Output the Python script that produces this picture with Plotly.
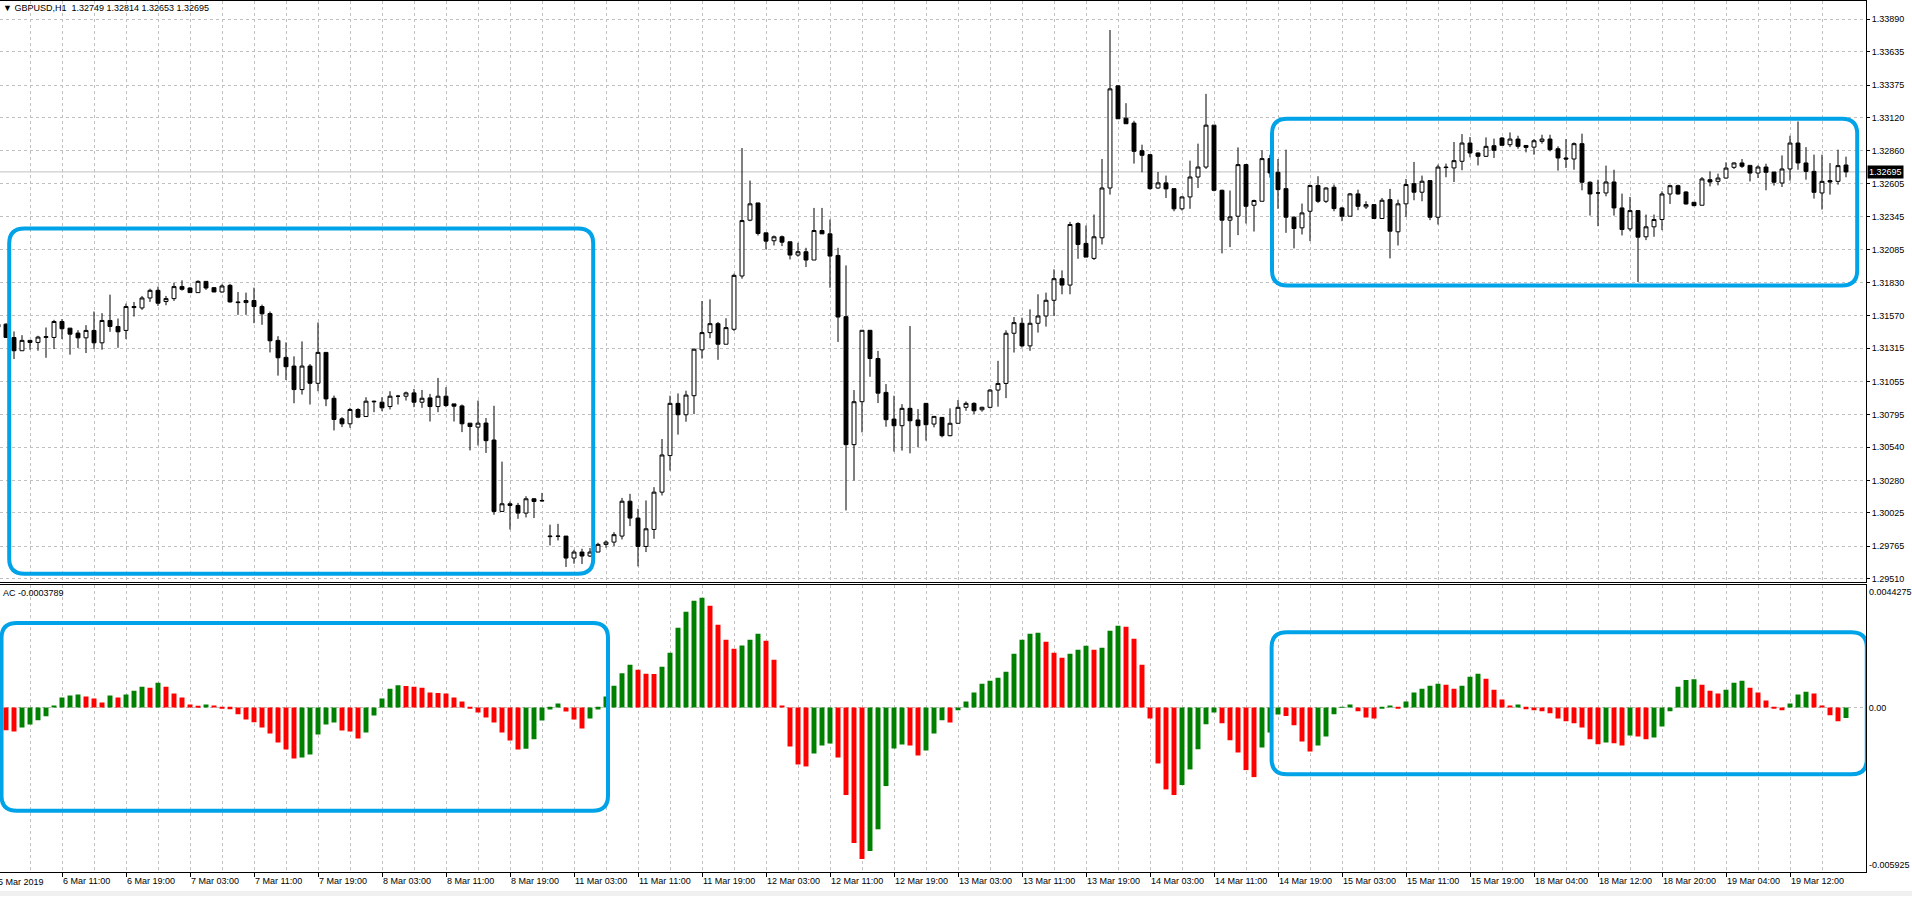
import plotly.graph_objects as go

# GBPUSD H1 candles (bar -1 is the sliver cut at the left edge, bar 230 is the live bar)
bar_index = list(range(-1, 231))

opens = [1.31502,
    1.31503, 1.31398, 1.31295, 1.31376, 1.31360, 1.31399, 1.31399, 1.31524, 1.31472, 1.31433,
    1.31396, 1.31454, 1.31357, 1.31532, 1.31485, 1.31454, 1.31641, 1.31630, 1.31708, 1.31768,
    1.31680, 1.31703, 1.31797, 1.31786, 1.31750, 1.31838, 1.31789, 1.31755, 1.31807, 1.31677,
    1.31672, 1.31688, 1.31641, 1.31586, 1.31376, 1.31243, 1.31175, 1.30991, 1.31175, 1.31040,
    1.31282, 1.30923, 1.30762, 1.30723, 1.30835, 1.30780, 1.30900, 1.30892, 1.30858, 1.30939,
    1.30939, 1.30965, 1.30892, 1.30926, 1.30858, 1.30939, 1.30879, 1.30863, 1.30728, 1.30697,
    1.30729, 1.30596, 1.30037, 1.30097, 1.30084, 1.30024, 1.30136, 1.30123, 1.29845, 1.29845,
    1.29844, 1.29672, 1.29719, 1.29688, 1.29719, 1.29779, 1.29797, 1.29844, 1.30117, 1.29985,
    1.29763, 1.29896, 1.30188, 1.30474, 1.30883, 1.30794, 1.30943, 1.31302, 1.31437, 1.31507,
    1.31346, 1.31463, 1.31880, 1.32317, 1.32452, 1.32218, 1.32156, 1.32187, 1.32148, 1.32044,
    1.32070, 1.32005, 1.32236, 1.32210, 1.32041, 1.31562, 1.30560, 1.30896, 1.31455, 1.31234,
    1.30969, 1.30760, 1.30708, 1.30844, 1.30753, 1.30883, 1.30721, 1.30773, 1.30630, 1.30727,
    1.30852, 1.30883, 1.30833, 1.30852, 1.30987, 1.31039, 1.31432, 1.31510, 1.31333, 1.31510,
    1.31567, 1.31690, 1.31859, 1.31809, 1.32291, 1.32135, 1.32018, 1.32179, 1.32569, 1.33369,
    1.33116, 1.33077, 1.32861, 1.32830, 1.32569, 1.32609, 1.32564, 1.32406, 1.32499, 1.32655,
    1.32733, 1.33061, 1.32551, 1.32317, 1.32348, 1.32752, 1.32434, 1.32465, 1.32799, 1.32692,
    1.32564, 1.32340, 1.32257, 1.32387, 1.32588, 1.32465, 1.32575, 1.32413, 1.32348, 1.32523,
    1.32421, 1.32439, 1.32330, 1.32478, 1.32226, 1.32445, 1.32603, 1.32536, 1.32627, 1.32340,
    1.32733, 1.32726, 1.32778, 1.32921, 1.32843, 1.32817, 1.32900, 1.32960, 1.32908, 1.32952,
    1.32902, 1.32889, 1.32934, 1.32952, 1.32876, 1.32804, 1.32796, 1.32916, 1.32614, 1.32530,
    1.32530, 1.32616, 1.32413, 1.32249, 1.32392, 1.32187, 1.32265, 1.32322, 1.32522, 1.32587,
    1.32538, 1.32457, 1.32434, 1.32634, 1.32621, 1.32647, 1.32731, 1.32765, 1.32746, 1.32686,
    1.32733, 1.32694, 1.32608, 1.32718, 1.32921, 1.32765, 1.32699, 1.32530, 1.32627, 1.32621,
    1.32749]

highs = [1.31510,
    1.31510, 1.31446, 1.31417, 1.31376, 1.31412, 1.31477, 1.31537, 1.31542, 1.31472, 1.31456,
    1.31495, 1.31602, 1.31589, 1.31734, 1.31547, 1.31664, 1.31677, 1.31724, 1.31781, 1.31797,
    1.31724, 1.31828, 1.31846, 1.31792, 1.31846, 1.31838, 1.31789, 1.31815, 1.31818, 1.31755,
    1.31750, 1.31789, 1.31656, 1.31602, 1.31409, 1.31360, 1.31251, 1.31368, 1.31191, 1.31516,
    1.31282, 1.30944, 1.30775, 1.30848, 1.30845, 1.30931, 1.30905, 1.30931, 1.30978, 1.30949,
    1.30975, 1.30996, 1.30988, 1.30957, 1.31082, 1.31009, 1.30879, 1.30874, 1.30728, 1.30905,
    1.30768, 1.30864, 1.30427, 1.30115, 1.30104, 1.30156, 1.30141, 1.30182, 1.29933, 1.29940,
    1.29844, 1.29737, 1.29745, 1.29750, 1.29792, 1.29810, 1.29875, 1.30143, 1.30175, 1.30058,
    1.30123, 1.30227, 1.30604, 1.30943, 1.30961, 1.30982, 1.31312, 1.31684, 1.31697, 1.31520,
    1.31549, 1.31898, 1.32882, 1.32627, 1.32452, 1.32218, 1.32197, 1.32197, 1.32148, 1.32140,
    1.32101, 1.32413, 1.32413, 1.32322, 1.32101, 1.31963, 1.30987, 1.31455, 1.31455, 1.31294,
    1.31034, 1.30943, 1.30877, 1.31489, 1.30838, 1.30883, 1.30781, 1.30773, 1.30844, 1.30909,
    1.30898, 1.30891, 1.30857, 1.30995, 1.31216, 1.31455, 1.31559, 1.31554, 1.31619, 1.31737,
    1.31750, 1.31932, 1.31924, 1.32304, 1.32301, 1.32275, 1.32361, 1.32796, 1.33806, 1.33369,
    1.33233, 1.33095, 1.32908, 1.32835, 1.32694, 1.32666, 1.32564, 1.32504, 1.32783, 1.32916,
    1.33306, 1.33061, 1.32556, 1.32549, 1.32887, 1.32757, 1.32478, 1.32864, 1.32830, 1.32796,
    1.32869, 1.32348, 1.32447, 1.32596, 1.32661, 1.32575, 1.32596, 1.32421, 1.32530, 1.32556,
    1.32465, 1.32439, 1.32491, 1.32562, 1.32478, 1.32640, 1.32773, 1.32666, 1.32627, 1.32752,
    1.32760, 1.32929, 1.32991, 1.32968, 1.32848, 1.32965, 1.32955, 1.32968, 1.33004, 1.32978,
    1.32902, 1.32952, 1.32986, 1.32986, 1.32895, 1.32952, 1.32926, 1.32994, 1.32621, 1.32634,
    1.32744, 1.32712, 1.32525, 1.32499, 1.32392, 1.32361, 1.32361, 1.32543, 1.32595, 1.32595,
    1.32543, 1.32457, 1.32655, 1.32699, 1.32681, 1.32770, 1.32770, 1.32796, 1.32746, 1.32746,
    1.32759, 1.32694, 1.32824, 1.32978, 1.33090, 1.32889, 1.32830, 1.32830, 1.32764, 1.32869,
    1.32814]

lows = [1.31470,
    1.31395, 1.31230, 1.31295, 1.31303, 1.31295, 1.31240, 1.31308, 1.31386, 1.31264, 1.31316,
    1.31277, 1.31308, 1.31303, 1.31443, 1.31318, 1.31386, 1.31563, 1.31615, 1.31677, 1.31646,
    1.31651, 1.31685, 1.31766, 1.31750, 1.31750, 1.31771, 1.31755, 1.31750, 1.31672, 1.31576,
    1.31576, 1.31511, 1.31498, 1.31282, 1.31100, 1.31066, 1.30884, 1.30952, 1.30874, 1.30978,
    1.30861, 1.30671, 1.30697, 1.30692, 1.30767, 1.30780, 1.30814, 1.30822, 1.30835, 1.30874,
    1.30905, 1.30853, 1.30848, 1.30741, 1.30814, 1.30853, 1.30741, 1.30658, 1.30515, 1.30554,
    1.30495, 1.30011, 1.30037, 1.29896, 1.29979, 1.29990, 1.29985, 1.30115, 1.29771, 1.29810,
    1.29602, 1.29628, 1.29625, 1.29680, 1.29719, 1.29753, 1.29766, 1.29818, 1.29922, 1.29607,
    1.29719, 1.29823, 1.30162, 1.30357, 1.30638, 1.30739, 1.30799, 1.31234, 1.31393, 1.31224,
    1.31346, 1.31450, 1.31859, 1.32309, 1.32197, 1.32088, 1.32119, 1.32114, 1.32010, 1.32031,
    1.31950, 1.32005, 1.32210, 1.31788, 1.31364, 1.30045, 1.30279, 1.30656, 1.31091, 1.30885,
    1.30700, 1.30505, 1.30513, 1.30492, 1.30539, 1.30591, 1.30695, 1.30617, 1.30625, 1.30727,
    1.30825, 1.30799, 1.30818, 1.30844, 1.30857, 1.30924, 1.31281, 1.31320, 1.31294, 1.31437,
    1.31484, 1.31567, 1.31737, 1.31737, 1.32015, 1.32028, 1.32005, 1.32127, 1.32517, 1.33111,
    1.33072, 1.32760, 1.32692, 1.32556, 1.32562, 1.32491, 1.32387, 1.32392, 1.32406, 1.32569,
    1.32718, 1.32543, 1.32057, 1.32106, 1.32200, 1.32291, 1.32228, 1.32465, 1.32650, 1.32406,
    1.32218, 1.32096, 1.32205, 1.32153, 1.32452, 1.32452, 1.32387, 1.32309, 1.32348, 1.32395,
    1.32405, 1.32330, 1.32330, 1.32018, 1.32119, 1.32343, 1.32473, 1.32465, 1.32317, 1.32283,
    1.32653, 1.32616, 1.32708, 1.32809, 1.32746, 1.32812, 1.32804, 1.32902, 1.32889, 1.32876,
    1.32848, 1.32830, 1.32916, 1.32856, 1.32705, 1.32726, 1.32712, 1.32551, 1.32353, 1.32270,
    1.32504, 1.32353, 1.32197, 1.32231, 1.31833, 1.32161, 1.32187, 1.32239, 1.32444, 1.32517,
    1.32439, 1.32426, 1.32434, 1.32582, 1.32590, 1.32642, 1.32718, 1.32726, 1.32621, 1.32647,
    1.32551, 1.32588, 1.32577, 1.32627, 1.32712, 1.32634, 1.32486, 1.32400, 1.32517, 1.32595,
    1.32653]

closes = [1.31480,
    1.31399, 1.31295, 1.31376, 1.31360, 1.31402, 1.31405, 1.31524, 1.31467, 1.31425, 1.31396,
    1.31454, 1.31357, 1.31532, 1.31485, 1.31443, 1.31641, 1.31633, 1.31708, 1.31768, 1.31667,
    1.31703, 1.31797, 1.31776, 1.31750, 1.31838, 1.31786, 1.31755, 1.31802, 1.31677, 1.31672,
    1.31688, 1.31641, 1.31584, 1.31373, 1.31240, 1.31170, 1.30991, 1.31175, 1.31040, 1.31282,
    1.30918, 1.30757, 1.30723, 1.30835, 1.30775, 1.30900, 1.30896, 1.30848, 1.30939, 1.30939,
    1.30965, 1.30892, 1.30923, 1.30858, 1.30939, 1.30866, 1.30861, 1.30723, 1.30702, 1.30728,
    1.30591, 1.30037, 1.30097, 1.30084, 1.30024, 1.30136, 1.30115, 1.30120, 1.29840, 1.29842,
    1.29672, 1.29719, 1.29688, 1.29719, 1.29779, 1.29797, 1.29855, 1.30117, 1.29985, 1.29763,
    1.29901, 1.30188, 1.30479, 1.30883, 1.30794, 1.30948, 1.31307, 1.31437, 1.31507, 1.31346,
    1.31476, 1.31885, 1.32314, 1.32445, 1.32213, 1.32153, 1.32187, 1.32145, 1.32044, 1.32070,
    1.32005, 1.32236, 1.32210, 1.32036, 1.31559, 1.30560, 1.30896, 1.31455, 1.31234, 1.30963,
    1.30755, 1.30708, 1.30844, 1.30747, 1.30708, 1.30716, 1.30781, 1.30630, 1.30727, 1.30852,
    1.30883, 1.30825, 1.30852, 1.30987, 1.31039, 1.31432, 1.31515, 1.31333, 1.31510, 1.31567,
    1.31690, 1.31859, 1.31809, 1.32283, 1.32127, 1.32028, 1.32187, 1.32569, 1.33345, 1.33111,
    1.33072, 1.32856, 1.32825, 1.32564, 1.32609, 1.32562, 1.32406, 1.32499, 1.32655, 1.32733,
    1.33061, 1.32551, 1.32317, 1.32343, 1.32752, 1.32426, 1.32471, 1.32799, 1.32687, 1.32556,
    1.32340, 1.32252, 1.32374, 1.32588, 1.32465, 1.32569, 1.32408, 1.32348, 1.32523, 1.32426,
    1.32439, 1.32330, 1.32473, 1.32231, 1.32445, 1.32596, 1.32536, 1.32622, 1.32340, 1.32733,
    1.32729, 1.32783, 1.32921, 1.32843, 1.32817, 1.32895, 1.32864, 1.32903, 1.32952, 1.32895,
    1.32887, 1.32939, 1.32952, 1.32869, 1.32804, 1.32796, 1.32916, 1.32614, 1.32522, 1.32530,
    1.32616, 1.32413, 1.32244, 1.32392, 1.32184, 1.32265, 1.32322, 1.32522, 1.32587, 1.32522,
    1.32444, 1.32431, 1.32640, 1.32616, 1.32647, 1.32725, 1.32765, 1.32739, 1.32686, 1.32733,
    1.32692, 1.32614, 1.32718, 1.32921, 1.32765, 1.32699, 1.32535, 1.32621, 1.32616, 1.32744,
    1.32695]

# Accelerator Oscillator histogram, one value per bar
ac_values = [-0.000419,
    -0.000815, -0.000863, -0.000719, -0.000611, -0.000455, -0.000311, 0.000072, 0.000359, 0.000431, 0.000467,
    0.000395, 0.000323, 0.000180, 0.000431, 0.000359, 0.000467, 0.000611, 0.000755, 0.000719, 0.000899,
    0.000755, 0.000503, 0.000359, 0.000108, 0.000036, 0.000108, 0.000072, -0.000024, -0.000060, -0.000240,
    -0.000431, -0.000527, -0.000719, -0.000934, -0.001258, -0.001509, -0.001833, -0.001797, -0.001689, -0.000970,
    -0.000611, -0.000539, -0.000827, -0.000863, -0.001114, -0.000899, -0.000288, 0.000323, 0.000683, 0.000803,
    0.000779, 0.000755, 0.000719, 0.000539, 0.000527, 0.000503, 0.000359, 0.000216, -0.000024, -0.000180,
    -0.000359, -0.000539, -0.000899, -0.001186, -0.001509, -0.001486, -0.001138, -0.000467, -0.000072, 0.000144,
    -0.000144, -0.000431, -0.000755, -0.000395, -0.000072, 0.000395, 0.000791, 0.001234, 0.001545, 0.001366,
    0.001222, 0.001210, 0.001474, 0.001977, 0.002875, 0.003450, 0.003846, 0.003953, 0.003666, 0.002983,
    0.002444, 0.002120, 0.002240, 0.002444, 0.002660, 0.002408, 0.001725, 0.000072, -0.001402, -0.002049,
    -0.002120, -0.001653, -0.001366, -0.001294, -0.001797, -0.003151, -0.004876, -0.005451, -0.005163, -0.004385,
    -0.002827, -0.001474, -0.001330, -0.001366, -0.001725, -0.001545, -0.000934, -0.000455, -0.000539, -0.000096,
    0.000216, 0.000539, 0.000863, 0.000970, 0.001078, 0.001294, 0.001941, 0.002444, 0.002660, 0.002696,
    0.002372, 0.001977, 0.001797, 0.001941, 0.002085, 0.002228, 0.002085, 0.002156, 0.002767, 0.002947,
    0.002911, 0.002480, 0.001545, -0.000395, -0.002013, -0.002947, -0.003151, -0.002791, -0.002228, -0.001498,
    -0.000599, -0.000180, -0.000563, -0.001174, -0.001617, -0.002252, -0.002504, -0.001438, -0.000899, -0.000252,
    -0.000300, -0.000635, -0.001222, -0.001581, -0.001366, -0.001042, -0.000240, 0.000012, 0.000108, -0.000132,
    -0.000359, -0.000395, -0.000012, 0.000072, -0.000024, 0.000216, 0.000539, 0.000683, 0.000791, 0.000863,
    0.000827, 0.000683, 0.000791, 0.001114, 0.001222, 0.001042, 0.000647, 0.000288, 0.000072, 0.000108,
    -0.000060, -0.000096, -0.000132, -0.000204, -0.000395, -0.000491, -0.000563, -0.000719, -0.001138, -0.001318,
    -0.001258, -0.001282, -0.001366, -0.001006, -0.001042, -0.001138, -0.001078, -0.000683, -0.000132, 0.000755,
    0.000994, 0.001018, 0.000827, 0.000611, 0.000503, 0.000647, 0.000899, 0.000970, 0.000719, 0.000539,
    0.000252, -0.000024, -0.000096, 0.000144, 0.000467, 0.000575, 0.000503, 0.000072, -0.000276, -0.000491,
    -0.0003789]

# time axis labels (bar index where each label sits)
label_bars = [7, 15, 23, 31, 39, 47, 55, 63, 71, 79, 87, 95, 103, 111, 119, 127, 135, 143,
              151, 159, 167, 175, 183, 191, 199, 207, 215, 223]
label_text = ["6 Mar 11:00", "6 Mar 19:00", "7 Mar 03:00", "7 Mar 11:00", "7 Mar 19:00",
              "8 Mar 03:00", "8 Mar 11:00", "8 Mar 19:00", "11 Mar 03:00", "11 Mar 11:00",
              "11 Mar 19:00", "12 Mar 03:00", "12 Mar 11:00", "12 Mar 19:00", "13 Mar 03:00",
              "13 Mar 11:00", "13 Mar 19:00", "14 Mar 03:00", "14 Mar 11:00", "14 Mar 19:00",
              "15 Mar 03:00", "15 Mar 11:00", "15 Mar 19:00", "18 Mar 04:00", "18 Mar 12:00",
              "18 Mar 20:00", "19 Mar 04:00", "19 Mar 12:00"]
first_label = "5 Mar 2019"

price_ticks = [1.29510, 1.29765, 1.30025, 1.30280, 1.30540, 1.30795, 1.31055, 1.31315, 1.31570,
               1.31830, 1.32085, 1.32345, 1.32605, 1.32860, 1.33120, 1.33375, 1.33635, 1.33890]
ac_max, ac_min = 0.0044275, -0.005925

GREEN = "#008000"
RED = "#FF0000"
BLUE = "#00A2E8"
GRID = "#C0C0C0"
FONT = "Liberation Sans"

W, H = 1912, 898
X_RIGHT = 1866 / W
main_dom = [1 - 583.5 / H, 1 - 1.5 / H]
ac_dom = [1 - 874 / H, 1 - 586 / H]
x_range = [-0.75, 232.5]
price_range = [1.29483, 1.34029]

# AC bar colour: green when the value rose against the previous bar
ac_colors = []
prev = ac_values[0]
for v in ac_values:
    ac_colors.append(GREEN if v > prev else RED)
    prev = v

fig = go.Figure()

fig.add_trace(go.Candlestick(
    x=bar_index, open=opens, high=highs, low=lows, close=closes,
    increasing=dict(line=dict(color="black", width=1), fillcolor="white"),
    decreasing=dict(line=dict(color="black", width=1), fillcolor="black"),
    whiskerwidth=0, xaxis="x", yaxis="y", showlegend=False, hoverinfo="skip",
))

fig.add_trace(go.Bar(
    x=bar_index, y=ac_values, width=0.62,
    marker=dict(color=ac_colors, line=dict(width=0)),
    xaxis="x2", yaxis="y2", showlegend=False, hoverinfo="skip",
))

grid = dict(showgrid=True, gridcolor=GRID, griddash="3px,3px", gridwidth=1)
minor = dict(tickmode="linear", tick0=3, dtick=8, ticks="", **grid)
tickfont = dict(family=FONT, size=9, color="black")

fig.update_layout(
    width=W, height=H,
    margin=dict(l=0, r=0, t=0, b=0),
    paper_bgcolor="white", plot_bgcolor="white",
    font=dict(family=FONT, size=9, color="black"),
    showlegend=False,
    xaxis=dict(domain=[0, X_RIGHT], range=x_range, anchor="y",
               tickmode="array", tickvals=label_bars, showticklabels=False, ticks="",
               minor=minor, zeroline=False, showline=True, mirror=True,
               linecolor="black", linewidth=1, rangeslider=dict(visible=False), **grid),
    yaxis=dict(domain=main_dom, range=price_range, anchor="x", side="right",
               tickmode="array", tickvals=price_ticks, tickformat=".5f",
               ticks="outside", ticklen=3, tickcolor="black", tickfont=tickfont,
               zeroline=False, showline=True, linecolor="black", linewidth=1, **grid),
    xaxis2=dict(domain=[0, X_RIGHT], range=x_range, anchor="y2",
                tickmode="array", tickvals=label_bars, ticktext=label_text,
                ticks="outside", ticklen=4, tickcolor="black", tickfont=tickfont,
                ticklabelposition="outside right",
                minor=minor, zeroline=False, showline=True, mirror=True,
                linecolor="black", linewidth=1, **grid),
    yaxis2=dict(domain=ac_dom, range=[ac_min, ac_max], anchor="x2", side="right",
                tickmode="array", tickvals=[0], ticktext=["0.00"], ticks="",
                tickfont=tickfont, zeroline=False, showline=True,
                linecolor="black", linewidth=1, **grid),
)


def rounded_box(x0, x1, y0, y1, rx, ry):
    return (f"M {x0 + rx},{y1} L {x1 - rx},{y1} Q {x1},{y1} {x1},{y1 - ry} "
            f"L {x1},{y0 + ry} Q {x1},{y0} {x1 - rx},{y0} L {x0 + rx},{y0} "
            f"Q {x0},{y0} {x0},{y0 + ry} L {x0},{y1 - ry} Q {x0},{y1} {x0 + rx},{y1} Z")


# highlighted ranges: (x from, x to, low, high) in bar index / axis units
price_boxes = [(0.4, 73.4, 1.29549, 1.32252), (158.25, 231.4, 1.31806, 1.33111)]
ac_boxes = [(-0.56, 75.25, -0.003715, 0.003043), (158.2, 232.6, -0.002403, 0.002713)]

shapes = [
    # live price line
    dict(type="line", xref="paper", yref="y", x0=0, x1=X_RIGHT,
         y0=closes[-1], y1=closes[-1], line=dict(color=GRID, width=1), layer="between"),
    # window frame strip at the bottom
    dict(type="rect", xref="paper", yref="paper", x0=0, x1=1, y0=0, y1=5 / H,
         fillcolor="#F0F0F0", line=dict(width=0), layer="below"),
]
for x0, x1, y0, y1 in price_boxes:
    shapes.append(dict(type="path", xref="x", yref="y",
                       path=rounded_box(x0, x1, y0, y1, 1.9, 0.00117),
                       line=dict(color=BLUE, width=4), layer="above"))
for x0, x1, y0, y1 in ac_boxes:
    shapes.append(dict(type="path", xref="x2", yref="y2",
                       path=rounded_box(x0, x1, y0, y1, 1.9, 0.00054),
                       line=dict(color=BLUE, width=4), layer="above"))
fig.update_layout(shapes=shapes)

nb = "\u00a0"
annotations = [
    dict(text=f"\u25bc GBPUSD,H1{nb}{nb}{opens[-1]:.5f} {highs[-1]:.5f} {lows[-1]:.5f} {closes[-1]:.5f}",
         xref="paper", yref="paper", x=1 / W, y=1 - 8 / H, xanchor="left", yanchor="middle",
         showarrow=False, font=dict(family=FONT, size=9, color="black")),
    dict(text=f"AC {ac_values[-1]:.7f}", xref="paper", yref="paper", x=1 / W, y=1 - 594 / H,
         xanchor="left", yanchor="middle", showarrow=False,
         font=dict(family=FONT, size=9, color="black")),
    dict(text=f"{closes[-1]:.5f}", xref="paper", yref="y", x=1867 / W, y=closes[-1],
         xanchor="left", yanchor="middle", showarrow=False, bgcolor="black", borderpad=1,
         font=dict(family=FONT, size=9, color="white")),
    dict(text=f"{ac_max:.7f}", xref="paper", yref="y2", x=1867 / W, y=ac_max,
         xanchor="left", yanchor="top", showarrow=False,
         font=dict(family=FONT, size=9, color="black")),
    dict(text=f"{ac_min:.6f}", xref="paper", yref="y2", x=1867 / W, y=ac_min,
         xanchor="left", yanchor="bottom", showarrow=False,
         font=dict(family=FONT, size=9, color="black")),
    dict(text=first_label, xref="paper", yref="paper", x=-4 / W, y=1 - 884 / H,
         xanchor="left", yanchor="middle", showarrow=False,
         font=dict(family=FONT, size=9, color="black")),
]
fig.update_layout(annotations=annotations)

# the page body keeps an 8px default margin; drop it so the chart fills the window
fig.write_html("out.html", config={"displayModeBar": False},
               post_script="document.body.style.margin='0px';")
